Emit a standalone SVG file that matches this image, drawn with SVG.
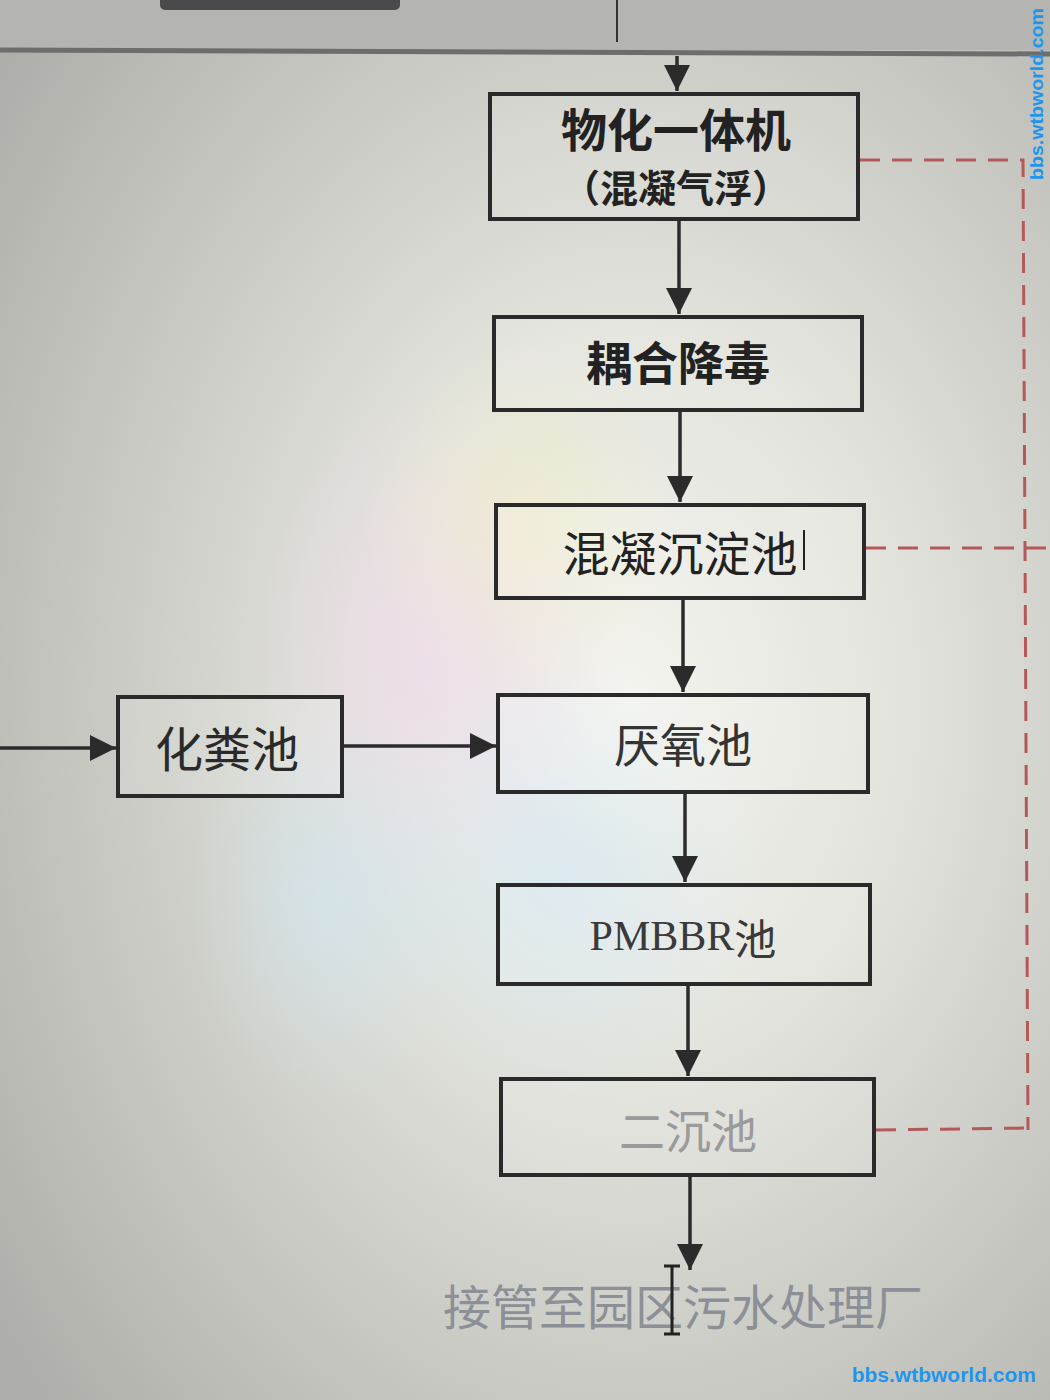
<svg xmlns="http://www.w3.org/2000/svg" width="1050" height="1400" viewBox="0 0 1050 1400">
<defs>
<radialGradient id="bg" cx="0.6" cy="0.5" r="0.75">
<stop offset="0" stop-color="#f4f4ef"/>
<stop offset="0.35" stop-color="#e2e3dc"/>
<stop offset="0.7" stop-color="#c6c7c1"/>
<stop offset="1" stop-color="#aeafaa"/>
</radialGradient>
<radialGradient id="rb1" cx="0.5" cy="0.5" r="0.5">
<stop offset="0" stop-color="#f3d6f0" stop-opacity="0.55"/>
<stop offset="1" stop-color="#f3d6f0" stop-opacity="0"/>
</radialGradient>
<radialGradient id="rb2" cx="0.5" cy="0.5" r="0.5">
<stop offset="0" stop-color="#cfe8f7" stop-opacity="0.55"/>
<stop offset="1" stop-color="#cfe8f7" stop-opacity="0"/>
</radialGradient>
<radialGradient id="rb3" cx="0.5" cy="0.5" r="0.5">
<stop offset="0" stop-color="#f3efc4" stop-opacity="0.5"/>
<stop offset="1" stop-color="#f3efc4" stop-opacity="0"/>
</radialGradient>
<marker id="ah" viewBox="0 0 10 10" refX="10" refY="5" markerWidth="7.5" markerHeight="8" markerUnits="strokeWidth" orient="auto">
<path d="M0,0 L10,5 L0,10 Z" fill="#2b2b2b"/>
</marker>
</defs>
<style>
.box{fill:#ffffff;fill-opacity:0.12;stroke:#2a2a2a;stroke-width:4}
.conn{stroke:#2b2b2b;stroke-width:3.5;fill:none}
.dash{stroke:#b5585a;stroke-width:3;fill:none;stroke-dasharray:20 12}
.t{font-family:"Noto Sans CJK SC","Liberation Sans",sans-serif;text-anchor:middle;dominant-baseline:central}
.wm{font-family:"Liberation Sans",sans-serif;font-weight:bold;fill:#1f95ee}
</style>
<rect x="0" y="0" width="1050" height="1400" fill="url(#bg)"/>
<ellipse cx="430" cy="650" rx="180" ry="260" fill="url(#rb1)"/>
<ellipse cx="560" cy="880" rx="200" ry="220" fill="url(#rb2)"/>
<ellipse cx="520" cy="520" rx="160" ry="180" fill="url(#rb3)"/>
<ellipse cx="330" cy="900" rx="140" ry="200" fill="url(#rb2)"/>
<g id="toolbar">
<rect x="0" y="0" width="1050" height="50" fill="#b4b5b0"/>
<rect x="160" y="-10" width="240" height="20" rx="5" fill="#4a4a4c"/>
<line x1="617" y1="0" x2="617" y2="42" stroke="#333" stroke-width="2"/>
<line x1="0" y1="50" x2="1050" y2="54" stroke="#6c6d6c" stroke-width="5"/>
</g>
<g id="connectors">
<line class="conn" x1="677" y1="56" x2="677" y2="91" marker-end="url(#ah)"/>
<line class="conn" x1="679" y1="220" x2="679" y2="314" marker-end="url(#ah)"/>
<line class="conn" x1="680" y1="410" x2="680" y2="502" marker-end="url(#ah)"/>
<line class="conn" x1="683" y1="598" x2="683" y2="692" marker-end="url(#ah)"/>
<line class="conn" x1="685" y1="792" x2="685" y2="882" marker-end="url(#ah)"/>
<line class="conn" x1="688" y1="984" x2="688" y2="1076" marker-end="url(#ah)"/>
<line class="conn" x1="690" y1="1175" x2="690" y2="1270" marker-end="url(#ah)"/>
<line class="conn" x1="0" y1="748" x2="116" y2="748" marker-end="url(#ah)"/>
<line class="conn" x1="342" y1="746" x2="496" y2="746" marker-end="url(#ah)"/>
<polyline class="dash" points="860,160 1023,160 1028,1130"/>
<line class="dash" x1="866" y1="548" x2="1050" y2="548"/>
<line class="dash" x1="876" y1="1130" x2="1028" y2="1128"/>
</g>
<g id="n1">
<rect class="box" x="490" y="94" width="368" height="125"/>
<text class="t" x="676" y="127" font-size="46" font-weight="bold" fill="#222">物化一体机</text>
<text class="t" x="676" y="185" font-size="38" font-weight="bold" fill="#222">（混凝气浮）</text>
</g>
<g id="n2">
<rect class="box" x="494" y="317" width="368" height="93"/>
<text class="t" x="678" y="360" font-size="46" font-weight="bold" fill="#222">耦合降毒</text>
</g>
<g id="n3">
<rect class="box" x="496" y="505" width="368" height="93"/>
<text class="t" x="680" y="550" font-size="47" fill="#222">混凝沉淀池</text>
<line x1="804" y1="530" x2="804" y2="570" stroke="#222" stroke-width="2"/>
</g>
<g id="n4">
<rect class="box" x="498" y="695" width="370" height="97"/>
<text class="t" x="683" y="742" font-size="46" fill="#333">厌氧池</text>
</g>
<g id="n5">
<rect class="box" x="118" y="697" width="224" height="99"/>
<text class="t" x="227" y="746" font-size="48" fill="#2a2a2a">化粪池</text>
</g>
<g id="n6">
<rect class="box" x="498" y="885" width="372" height="99"/>
<text x="683" y="936" text-anchor="middle" dominant-baseline="central" font-size="42" fill="#3a3a3a"><tspan font-family="Liberation Serif,serif">PMBBR</tspan><tspan font-family="Noto Sans CJK SC,sans-serif">池</tspan></text>
</g>
<g id="n7">
<rect class="box" x="501" y="1079" width="373" height="96"/>
<text class="t" x="688" y="1128" font-size="46" fill="#9a9a9c">二沉池</text>
</g>
<g id="out">
<text x="683" y="1308" text-anchor="middle" dominant-baseline="central" font-family="Liberation Serif,Noto Sans CJK SC,serif" font-size="48" fill="#8c9096">接管至园区污水处理厂</text>
<path d="M664,1266 h16 M672,1266 v68 M664,1334 h16" stroke="#222" stroke-width="3" fill="none"/>
</g>
<text class="wm" x="1036" y="1382" text-anchor="end" font-size="21">bbs.wtbworld.com</text>
<text class="wm" transform="translate(1043,180) rotate(-90)" x="0" y="0" font-size="19" textLength="172" lengthAdjust="spacingAndGlyphs">bbs.wtbworld.com</text>
</svg>
